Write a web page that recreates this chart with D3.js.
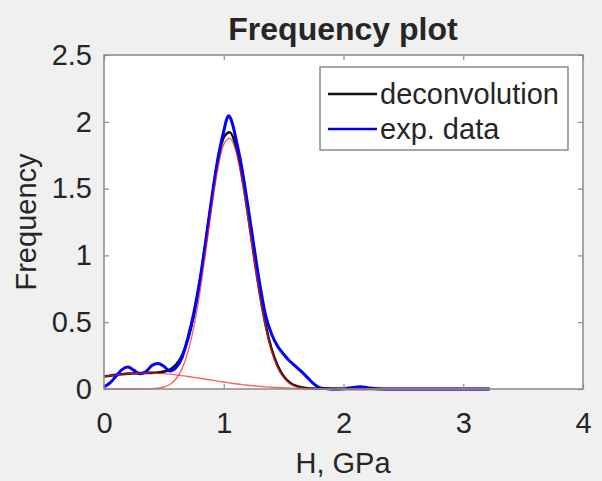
<!DOCTYPE html>
<html>
<head>
<meta charset="utf-8">
<script src="https://cdn.jsdelivr.net/npm/d3@7"></script>
<style>
  body { margin: 0; background: #f0f0f0; }
  text { font-family: "Liberation Sans", Arial, Helvetica, sans-serif; fill: #262626; }
</style>
</head>
<body>
<svg id="chart" width="602" height="481"></svg>
<script>
// Hardness grid (GPa) shared by the fitted curves
const hGrid = [0, 0.05, 0.1, 0.15, 0.2, 0.25, 0.3, 0.35, 0.4, 0.45, 0.5, 0.55, 0.6, 0.65, 0.7, 0.75,
  0.8, 0.85, 0.9, 0.95, 1.0, 1.05, 1.1, 1.15, 1.2, 1.25, 1.3, 1.35, 1.4, 1.45, 1.5, 1.55, 1.6,
  1.65, 1.7, 1.75, 1.8, 1.9, 2.0, 2.2, 2.4, 2.6, 2.8, 3.0, 3.22];

// Sum of the fitted phases
const deconvolution = [0.094, 0.100, 0.106, 0.111, 0.115, 0.117, 0.119, 0.121, 0.121, 0.123, 0.130,
  0.145, 0.181, 0.249, 0.368, 0.550, 0.800, 1.103, 1.422, 1.702, 1.883, 1.922, 1.823, 1.608, 1.321,
  1.011, 0.721, 0.478, 0.296, 0.173, 0.095, 0.049, 0.024, 0.012, 0.006, 0.003, 0.002, 0.001, 0,
  0, 0, 0, 0, 0, 0];

// Soft, broad phase
const phaseSoft = [0.094, 0.100, 0.106, 0.111, 0.115, 0.117, 0.119, 0.120, 0.119, 0.117, 0.115,
  0.111, 0.106, 0.100, 0.094, 0.087, 0.080, 0.073, 0.066, 0.059, 0.052, 0.045, 0.039, 0.033, 0.028,
  0.024, 0.020, 0.016, 0.013, 0.011, 0.009, 0.007, 0.005, 0.004, 0.003, 0.002, 0.002, 0.001, 0,
  0, 0, 0, 0, 0, 0];

// Main phase around 1 GPa
const phaseMain = [0, 0, 0, 0, 0, 0, 0, 0.001, 0.002, 0.006, 0.015, 0.034, 0.075, 0.149, 0.274,
  0.463, 0.720, 1.030, 1.356, 1.643, 1.831, 1.877, 1.784, 1.575, 1.293, 0.987, 0.701, 0.462, 0.283,
  0.162, 0.086, 0.042, 0.019, 0.008, 0.003, 0.001, 0, 0, 0, 0, 0, 0, 0, 0, 0];

// Measured frequency distribution
const expH = [0, 0.05, 0.1, 0.15, 0.2, 0.25, 0.3, 0.35, 0.4, 0.45, 0.5, 0.55, 0.6, 0.65, 0.7, 0.75,
  0.8, 0.85, 0.9, 0.95, 1.0, 1.025, 1.04, 1.06, 1.08, 1.1, 1.15, 1.2, 1.25, 1.3, 1.35, 1.4, 1.45,
  1.5, 1.55, 1.6, 1.65, 1.7, 1.75, 1.8, 1.85, 1.9, 2.0, 2.08, 2.14, 2.2, 2.28, 2.4, 2.6, 2.8, 3.0, 3.22];
const expData = [0.015, 0.045, 0.095, 0.145, 0.165, 0.14, 0.115, 0.13, 0.175, 0.19, 0.17, 0.135,
  0.16, 0.23, 0.38, 0.57, 0.81, 1.11, 1.43, 1.72, 1.93, 2.02, 2.045, 2.02, 1.96, 1.88, 1.66, 1.38,
  1.08, 0.79, 0.55, 0.41, 0.32, 0.26, 0.21, 0.17, 0.13, 0.085, 0.04, 0.01, 0.003, 0, 0.002, 0.012,
  0.017, 0.01, 0.002, 0, 0, 0, 0, 0];

const xTicks = [0, 1, 2, 3, 4];
const yTicks = [0, 0.5, 1, 1.5, 2, 2.5];
const legendLabels = ["deconvolution", "exp. data"];

const svg = d3.select("#chart");
const box = { left: 104, right: 583, top: 55, bottom: 389 };

const x = d3.scaleLinear().domain([0, 4]).range([box.left, box.right]);
const y = d3.scaleLinear().domain([0, 2.5]).range([box.bottom, box.top]);

// plot area
svg.append("rect")
  .attr("x", box.left).attr("y", box.top)
  .attr("width", box.right - box.left).attr("height", box.bottom - box.top)
  .attr("fill", "#ffffff");

const line = (xs, ys) => d3.line()
  .x((d, i) => x(xs[i]))
  .y(d => y(d))
  .curve(d3.curveMonotoneX)(ys);

const curves = svg.append("g");
curves.append("path").attr("d", line(hGrid, deconvolution))
  .attr("fill", "none").attr("stroke", "#111111").attr("stroke-width", 2.6);
curves.append("path").attr("d", line(expH, expData))
  .attr("fill", "none").attr("stroke", "#0000ff").attr("stroke-width", 3);
[phaseSoft, phaseMain].forEach(ys => {
  curves.append("path").attr("d", line(hGrid, ys))
    .attr("fill", "none").attr("stroke", "#ff2020").attr("stroke-opacity", 0.7)
    .attr("stroke-width", 1.4);
});

// axes with inward ticks
const fontSize = 29;
const axisStyle = g => {
  g.select(".domain").remove();
  g.selectAll(".tick line").attr("stroke", "#8a8a8a").attr("stroke-width", 1.2);
  g.selectAll("text").attr("font-size", fontSize).attr("fill", "#262626")
    .attr("font-family", "'Liberation Sans', Arial, sans-serif");
};
svg.append("g").attr("transform", `translate(0,${box.bottom})`)
  .call(d3.axisBottom(x).tickValues(xTicks).tickSize(-5).tickPadding(23).tickFormat(d3.format("")))
  .call(axisStyle);
svg.append("g").attr("transform", `translate(0,${box.top})`)
  .call(d3.axisTop(x).tickValues(xTicks).tickSize(-5).tickFormat(""))
  .call(axisStyle);
svg.append("g").attr("transform", `translate(${box.left},0)`)
  .call(d3.axisLeft(y).tickValues(yTicks).tickSize(-5).tickPadding(12).tickFormat(d3.format("")))
  .call(axisStyle);
svg.append("g").attr("transform", `translate(${box.right},0)`)
  .call(d3.axisRight(y).tickValues(yTicks).tickSize(-5).tickFormat(""))
  .call(axisStyle);

// frame
svg.append("rect")
  .attr("x", box.left).attr("y", box.top)
  .attr("width", box.right - box.left).attr("height", box.bottom - box.top)
  .attr("fill", "none").attr("stroke", "#8a8a8a").attr("stroke-width", 1.5);

// title and axis labels
svg.append("text").attr("x", 343).attr("y", 40).attr("text-anchor", "middle")
  .attr("font-size", 32).attr("font-weight", "bold").attr("fill", "#000").text("Frequency plot");
svg.append("text").attr("x", 343).attr("y", 473).attr("text-anchor", "middle")
  .attr("font-size", 29).text("H, GPa");
svg.append("text").attr("transform", "translate(36,222) rotate(-90)").attr("text-anchor", "middle")
  .attr("font-size", 29).text("Frequency");

// legend
const legend = svg.append("g");
legend.append("rect").attr("x", 320).attr("y", 67).attr("width", 248).attr("height", 83)
  .attr("fill", "#ffffff").attr("stroke", "#8a8a8a").attr("stroke-width", 1.5);
const legendColors = ["#111111", "#0000ff"];
legendLabels.forEach((label, i) => {
  const cy = 94 + i * 35;
  legend.append("line").attr("x1", 328).attr("x2", 377).attr("y1", cy).attr("y2", cy)
    .attr("stroke", legendColors[i]).attr("stroke-width", 2.6);
  legend.append("text").attr("x", 380).attr("y", cy).attr("dy", "0.35em")
    .attr("font-size", 29).text(label);
});
</script>
</body>
</html>
